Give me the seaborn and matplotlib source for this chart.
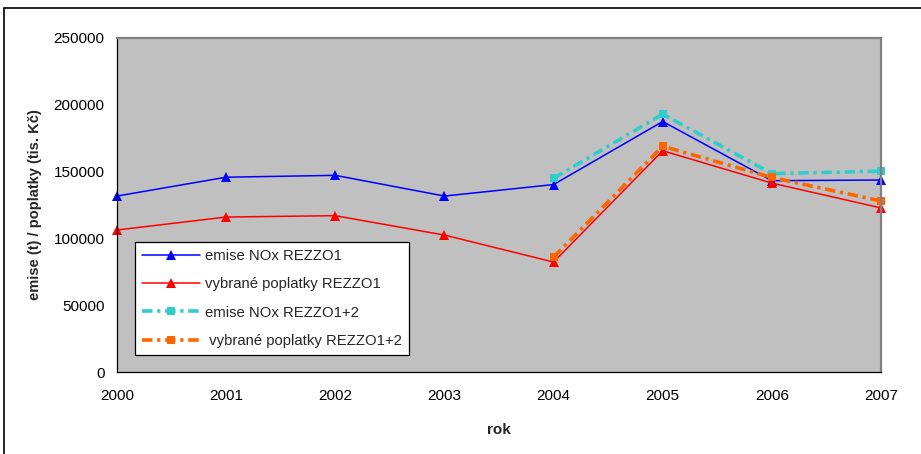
import matplotlib
matplotlib.use("Agg")
import matplotlib.pyplot as plt
from matplotlib.patches import Rectangle
import seaborn as sns
import pandas as pd

# Years and series values
years = [2000, 2001, 2002, 2003, 2004, 2005, 2006, 2007]
emise_rezzo1 = [131700, 145800, 147200, 131700, 140300, 187500, 143200, 143700]
poplatky_rezzo1 = [106300, 116000, 117000, 102500, 82300, 165600, 141400, 122800]
years_12 = [2004, 2005, 2006, 2007]
emise_rezzo12 = [145000, 193000, 148500, 150300]
poplatky_rezzo12 = [86000, 169000, 145600, 128000]

labels = ["emise NOx REZZO1", "vybrané poplatky REZZO1",
          "emise NOx REZZO1+2", " vybrané poplatky REZZO1+2"]
y_ticks = [0, 50000, 100000, 150000, 200000, 250000]

sns.set_style("white")
plt.rcParams["font.family"] = ["Liberation Sans", "DejaVu Sans"]

fig = plt.figure(figsize=(9.21, 4.54), dpi=100)
ax = fig.add_axes([0.127, 0.1806, 0.8296, 0.7357])
ax.set_facecolor("#C0C0C0")

df1 = pd.DataFrame({"rok": years, "a": emise_rezzo1, "b": poplatky_rezzo1})
df2 = pd.DataFrame({"rok": years_12, "a": emise_rezzo12, "b": poplatky_rezzo12})

sns.lineplot(data=df1, x="rok", y="a", ax=ax, color="#0000FF", lw=1.1,
             marker="^", markersize=7, markeredgewidth=0, label=labels[0])
sns.lineplot(data=df1, x="rok", y="b", ax=ax, color="#FF0000", lw=1.1,
             marker="^", markersize=7, markeredgewidth=0, label=labels[1])
sns.lineplot(data=df2, x="rok", y="a", ax=ax, color="#33CCCC", lw=2.6,
             marker="s", markersize=6, markeredgewidth=0,
             dashes=(2.9, 1.3, 0.9, 1.3), label=labels[2])
sns.lineplot(data=df2, x="rok", y="b", ax=ax, color="#FF6600", lw=2.6,
             marker="s", markersize=6, markeredgewidth=0,
             dashes=(2.9, 1.3, 0.9, 1.3), label=labels[3])

for line in ax.get_lines():
    line.set_clip_on(False)

ax.set_xlim(2000, 2007)
ax.set_ylim(0, 250000)
ax.set_xticks(years)
ax.set_xticklabels([str(y) for y in years])
ax.set_yticks(y_ticks)
ax.set_yticklabels([str(v) for v in y_ticks])
ax.tick_params(axis="both", which="major", width=0.8, color="black",
               labelsize=11, labelcolor="black")
ax.tick_params(axis="y", direction="out", length=5, pad=4)
ax.tick_params(axis="x", direction="inout", length=7, pad=9)

for side in ("left", "bottom"):
    ax.spines[side].set_color("black")
    ax.spines[side].set_linewidth(0.9)
for side in ("top", "right"):
    ax.spines[side].set_color("#808080")
    ax.spines[side].set_linewidth(1.6)

ax.set_xlabel("rok", fontsize=11, fontweight="bold", labelpad=14)
ax.set_ylabel("emise (t) / poplatky (tis. Kč)", fontsize=10.5,
              fontweight="bold", labelpad=8)

leg = ax.legend(loc="lower left", bbox_to_anchor=(0.0236, 0.051),
                frameon=True, fancybox=False, fontsize=10.7, handlelength=3.9,
                labelspacing=0.97, borderpad=0.47, handletextpad=0.35,
                borderaxespad=0)
leg.get_frame().set_edgecolor("black")
leg.get_frame().set_facecolor("white")
leg.get_frame().set_linewidth(0.9)
leg.get_frame().set_alpha(1)

# Outer chart-area border
fig.patches.append(Rectangle((4 / 921, -0.05), 1.1, (454 - 8) / 454 + 0.05,
                             transform=fig.transFigure, fill=False,
                             edgecolor="black", linewidth=1.2, clip_on=False))

fig.savefig("out.png", dpi=100, facecolor="white")
